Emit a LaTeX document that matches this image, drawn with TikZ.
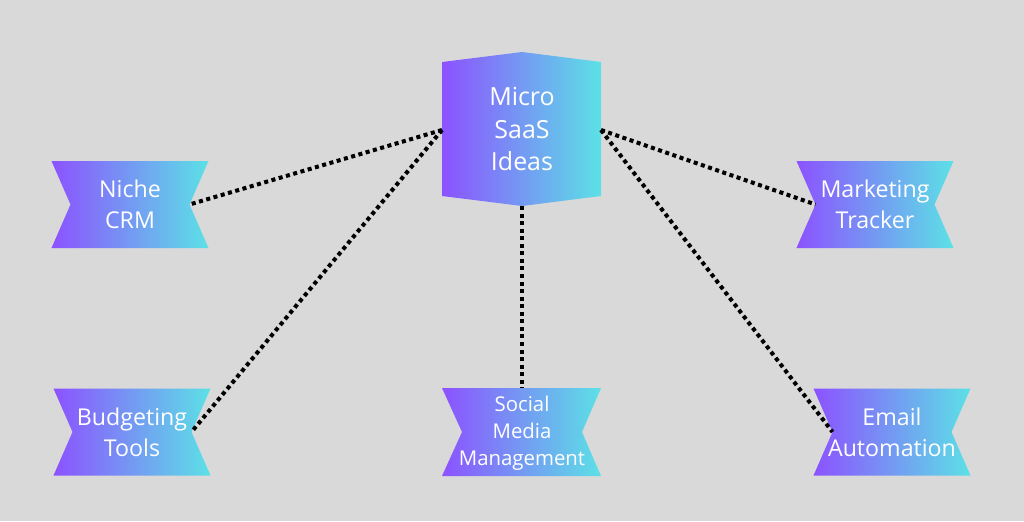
\documentclass[tikz,border=0pt]{standalone}
\usepackage{fontspec}
\setmainfont{Open Sans}
\usetikzlibrary{calc}
\definecolor{bggray}{HTML}{D9D9D9}
\definecolor{ideapurple}{HTML}{8C52FF}
\definecolor{ideacyan}{HTML}{5CE1E6}
\tikzstyle{ribbon}=[left color=ideapurple, right color=ideacyan, draw=none]
\tikzstyle{idea}=[text=white, align=center, inner sep=0pt, font=\fontsize{13.2}{17.6}\selectfont]
\tikzstyle{dotlink}=[black, line width=2.3pt, dotted]

\begin{document}
\begin{tikzpicture}[x=0.02cm, y=-0.02cm]

   \fill[bggray] (0,0) rectangle (1024,521);
   \useasboundingbox (0,0) rectangle (1024,521);

   % centre block
   \shade[ribbon] (442,62) -- (522,52) -- (601,62) -- (601,196) -- (522,206) -- (442,196) -- cycle;
   \node[idea, font=\fontsize{14.2}{18.7}\selectfont] (saas) at (522,129) {Micro\\SaaS\\Ideas};
   \coordinate (saas-l) at (442,130);
   \coordinate (saas-r) at (601,130);
   \coordinate (saas-b) at (522,206);

   % ribbons
   \foreach \cx/\cy/\name/\txt in {130/204.5/niche/{Niche\\CRM}, 875/204.5/market/{Marketing\\Tracker}, 132/432/budget/{Budgeting\\Tools}, 892/432/email/{Email\\Automation}} {
      \shade[ribbon] (\cx-78.5,\cy-43.5) -- (\cx+78.5,\cy-43.5) -- (\cx+59.5,\cy) -- (\cx+78.5,\cy+43.5) -- (\cx-78.5,\cy+43.5) -- (\cx-59.5,\cy) -- cycle;
      \coordinate (\name-l) at (\cx-59.5,\cy);
      \coordinate (\name-r) at (\cx+59.5,\cy);
      \node[idea] (\name) at (\cx,\cy) {\txt};
   }

   \shade[ribbon] (442,388) -- (601,388) -- (582,432) -- (601,476) -- (442,476) -- (462,432) -- cycle;
   \coordinate (social-t) at (522,388);
   \node[idea, font=\fontsize{11.6}{15.3}\selectfont] (social) at (522,433) {Social\\Media\\Management};

   % dotted links
   \draw[dotlink] (saas-l) -- (niche-r);
   \draw[dotlink] (saas-l) -- (budget-r);
   \draw[dotlink] (saas-b) -- (social-t);
   \draw[dotlink] (saas-r) -- (market-l);
   \draw[dotlink] (saas-r) -- (email-l);

\end{tikzpicture}
\end{document}
